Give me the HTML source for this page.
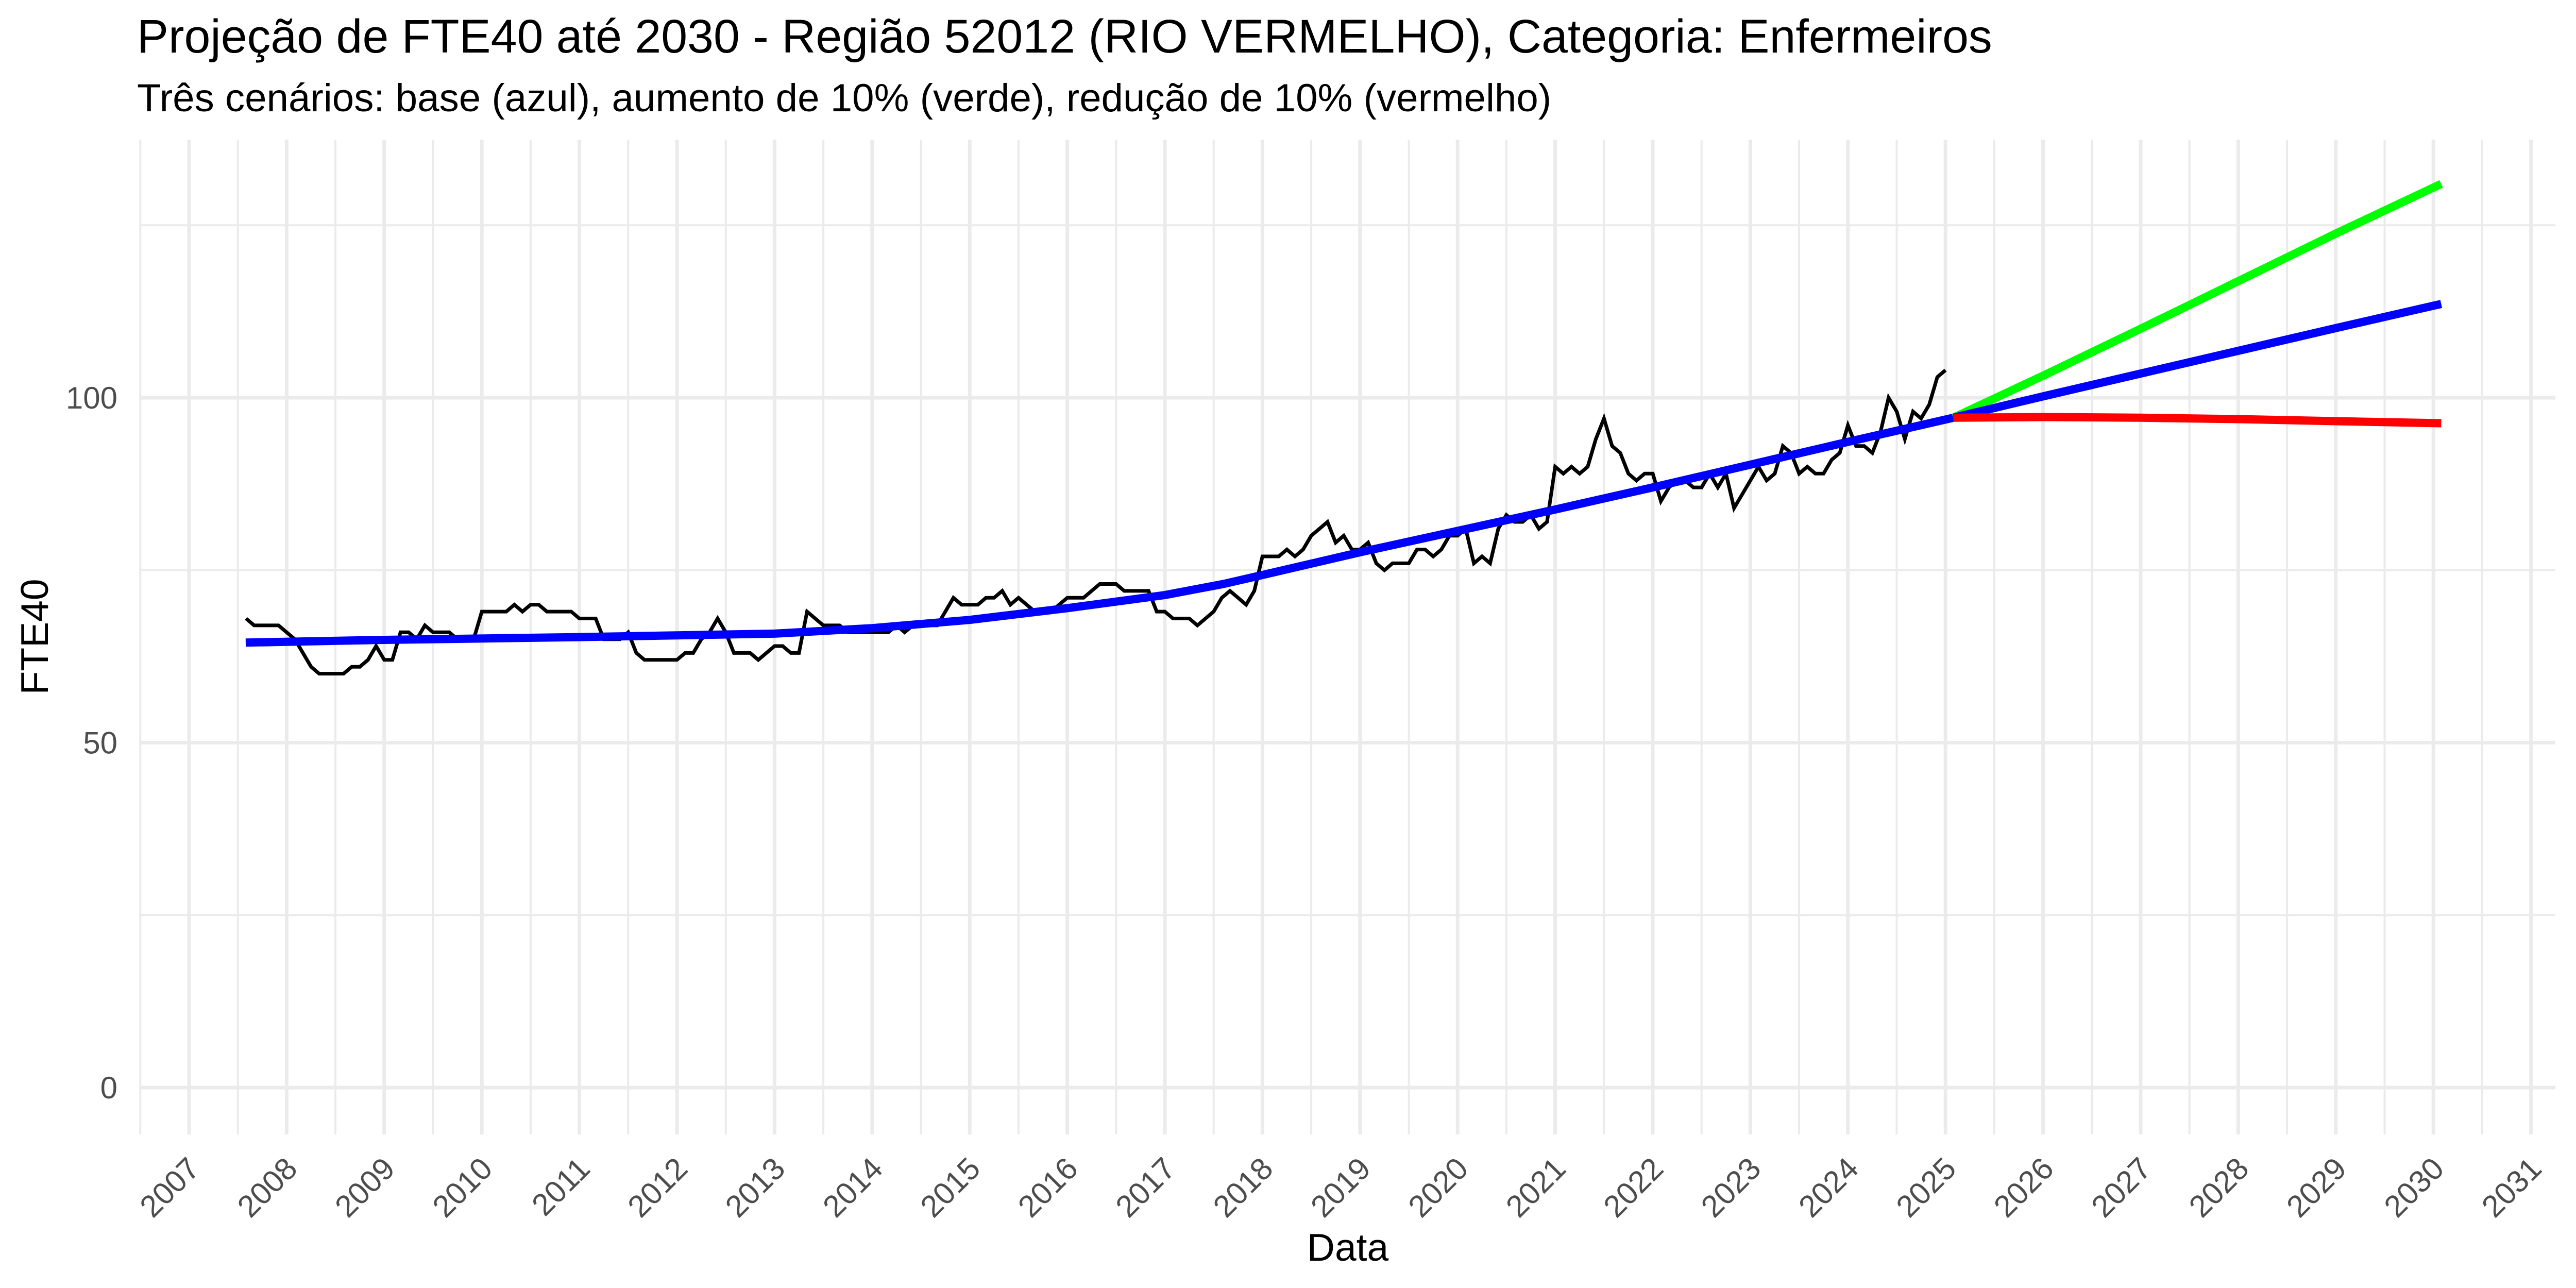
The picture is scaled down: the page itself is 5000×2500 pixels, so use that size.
<!DOCTYPE html>
<html><head><meta charset="utf-8">
<style>
html,body{margin:0;padding:0;background:#fff;}
svg{display:block;}
text{font-family:"Liberation Sans",Arial,sans-serif;}
</style></head>
<body>
<svg id="chart" width="5000" height="2500" viewBox="0 0 5000 2500" xmlns="http://www.w3.org/2000/svg">
  <rect x="0" y="0" width="5000" height="2500" fill="#fff"/>
  <g id="grid"></g>
  <g id="series"></g>
  <g id="axes"></g>
  <text x="266" y="102" font-size="91.5" fill="#000">Projeção de FTE40 até 2030 - Região 52012 (RIO VERMELHO), Categoria: Enfermeiros</text>
  <text x="266" y="216" font-size="76.3" fill="#000">Três cenários: base (azul), aumento de 10% (verde), redução de 10% (vermelho)</text>
  <text x="2616" y="2447" font-size="75" fill="#000" text-anchor="middle">Data</text>
  <text transform="translate(93,1236) rotate(-90)" font-size="75" fill="#000" text-anchor="middle">FTE40</text>
</svg>
<script>
// ---- data ----
const obsStart = 2007 + 7/12; // Aug 2007, monthly
const observed = [68,67,67,67,67,66,65,63,61,60,60,60,60,61,61,62,64,62,62,66,66,65,67,66,66,66,65,65,65,69,69,69,69,70,69,70,70,69,69,69,69,68,68,68,65,65,65,66,63,62,62,62,62,62,63,63,65,66,68,66,63,63,63,62,63,64,64,63,63,69,68,67,67,67,
66,66,66,66,66,66,67,66,67,67,67,67,69,71,70,70,70,71,71,72,70,71,70,69,69,69,70,71,71,71,72,73,73,73,72,72,72,72,69,69,68,68,68,67,68,69,71,72,71,70,72,77,77,77,78,77,78,80,81,82,79,80,78,78,79,76,75,76,76,76,78,78,77,
78,80,80,81,76,77,76,81,83,82,82,83,81,82,90,89,90,89,90,94,97,93,92,89,88,89,89,85,87,88,88,87,87,89,87,89,84,86,88,90,88,89,93,92,89,90,89,89,91,92,96,93,93,92,95,100,98,94,98,97,99,103,104];
const trendYears = [2007.58,2009,2011,2013,2014,2015,2016,2017,2017.6,2018,2019,2020,2021,2022,2023,2024,2025.08];
const trendValues = [64.5,64.9,65.3,65.8,66.6,67.8,69.5,71.4,73,74.3,77.6,80.7,83.8,87,90.3,93.6,97.1];
const projYears = [2025.08,2026,2027,2028,2029,2030.08];
const projBase = [97.1,100.2,103.5,106.8,110.1,113.6];
const projUp = [97.1,103.2,110.0,116.9,123.8,131];
const projDown = [97.1,97.2,97.1,96.9,96.6,96.3];
const xTickLabels = ["2007","2008","2009","2010","2011","2012","2013","2014","2015","2016","2017","2018","2019","2020","2021","2022","2023","2024","2025","2026","2027","2028","2029","2030","2031"];
const yTickLabels = ["0","50","100"];
const yMinor = [25,75,125];

// ---- scales ----
const PL=272, PR=4960, PT=271, PB=2202;
function xs(yr){ return 367 + (yr-2007)*189.4; }
function ys(v){ return 2111 - v*13.39; }
const NS="http://www.w3.org/2000/svg";
function mk(tag, attrs, parent){
  const e=document.createElementNS(NS,tag);
  for(const k in attrs) e.setAttribute(k,attrs[k]);
  parent.appendChild(e); return e;
}
const grid=document.getElementById('grid'), series=document.getElementById('series'), axes=document.getElementById('axes');

for(const v of yMinor){
  const l=mk('line',{x1:PL,x2:PR,y1:ys(v),y2:ys(v),stroke:'#ebebeb','stroke-width':4},grid);
  
  
}
for(let i=0;i<xTickLabels.length;i++){
  const yr=parseInt(xTickLabels[i])-0.5;
  const l=mk('line',{x1:xs(yr),x2:xs(yr),y1:PT,y2:PB,stroke:'#ebebeb','stroke-width':4},grid);
  
  
}
for(const t of yTickLabels){
  const v=parseFloat(t);
  const l=mk('line',{x1:PL,x2:PR,y1:ys(v),y2:ys(v),stroke:'#ebebeb','stroke-width':7},grid);
  
  
  const tx=mk('text',{x:228,y:ys(v)+21,'font-size':60,fill:'#4d4d4d','text-anchor':'end'},axes);
  tx.textContent=t;
  
  
}
for(const t of xTickLabels){
  const yr=parseInt(t);
  const l=mk('line',{x1:xs(yr),x2:xs(yr),y1:PT,y2:PB,stroke:'#ebebeb','stroke-width':7},grid);
  
  
  const tx=mk('text',{transform:`translate(${xs(yr)+24},${2272}) rotate(-45)`,'font-size':60,fill:'#4d4d4d','text-anchor':'end'},axes);
  tx.textContent=t;
  
  
}

function pts(xsArr, vals){ return vals.map((v,i)=>xs(xsArr[i]).toFixed(1)+','+ys(v).toFixed(1)).join(' '); }
const obsX = observed.map((v,i)=>obsStart+i/12);
const obs=mk('polyline',{points:pts(obsX,observed),fill:'none',stroke:'#000','stroke-width':7,'stroke-linejoin':'miter'},series);


const tr=mk('polyline',{points:pts(trendYears,trendValues),fill:'none',stroke:'#0000ff','stroke-width':16,'stroke-linejoin':'round'},series);


const pu=mk('polyline',{points:pts(projYears,projUp),fill:'none',stroke:'#00ff00','stroke-width':16},series);


const pb=mk('polyline',{points:pts(projYears,projBase),fill:'none',stroke:'#0000ff','stroke-width':16},series);


const pd=mk('polyline',{points:pts(projYears,projDown),fill:'none',stroke:'#ff0000','stroke-width':16},series);


</script>
</body></html>
